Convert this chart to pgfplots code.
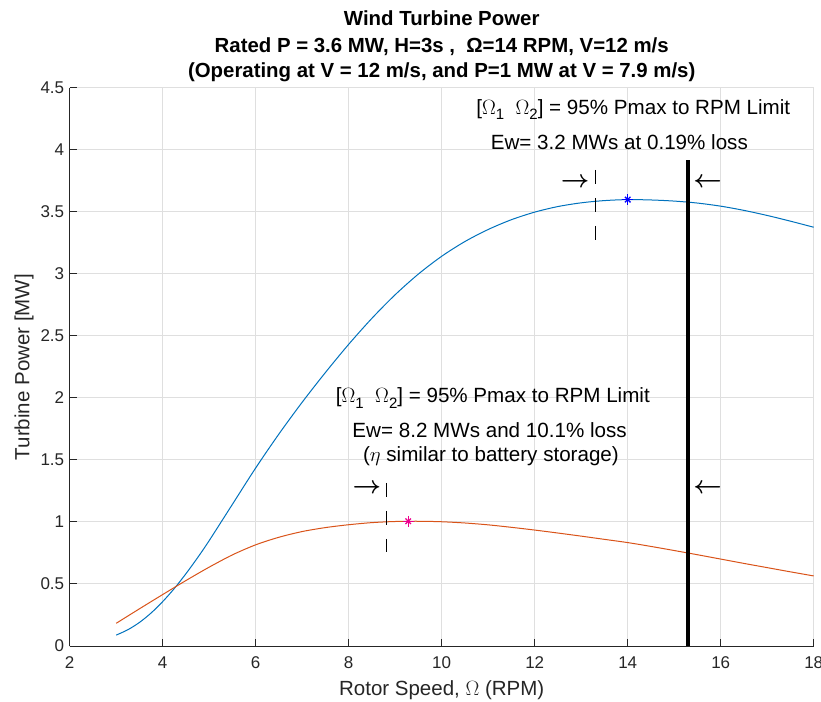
\documentclass[border=0pt]{standalone}
\usepackage{pgfplots}
\pgfplotsset{compat=1.18}
\usepackage{graphicx}
\usepackage{fontspec}
\setmainfont{Liberation Sans}
\definecolor{mblue}{rgb}{0,0.447,0.741}
\definecolor{morange}{rgb}{0.85,0.325,0.098}
\definecolor{axgray}{rgb}{0.15,0.15,0.15}
\definecolor{gridgray}{rgb}{0.875,0.875,0.875}
\newcommand{\fs}[1]{\fontsize{#1}{#1}\selectfont}
\newcommand{\sub}[1]{\raisebox{-5.5bp}{\fs{15bp}#1}}
\newcommand{\arrfont}{\fontsize{29bp}{29bp}\selectfont\boldmath}
\begin{document}
\begin{tikzpicture}
\useasboundingbox (-69.7bp,-56bp) rectangle (751.3bp,646bp);
\begin{axis}[
  scale only axis, width=744bp, height=558bp,
  xmin=2, xmax=18, ymin=0, ymax=4.5,
  xtick={2,4,6,8,10,12,14,16,18},
  ytick={0,0.5,1,1.5,2,2.5,3,3.5,4,4.5},
  axis x line*=bottom, axis y line*=left,
  axis line style={axgray, line width=1bp},
  tick align=inside, major tick length=7bp,
  tick style={axgray, line width=1bp},
  grid=major, grid style={gridgray, line width=1bp},
  ticklabel style={font=\fs{17bp}, text=axgray},
  /pgf/number format/assume math mode=true,
  xticklabel style={yshift=-7bp},
  yticklabel style={xshift=-2bp},
  xlabel={Rotor Speed, $\Omega$ (RPM)},
  ylabel={Turbine Power [MW]},
  label style={font=\fs{20.5bp}, text=axgray},
  xlabel style={at={(axis description cs:0.5,-0.0887)}, anchor=base},
  ylabel style={at={(axis description cs:-0.0614,0.5)}, anchor=center},
  clip=false,
]
\addplot[mblue, line width=1bp, smooth, tension=0.5] coordinates {
(3.0,0.088) (3.25,0.131) (3.5,0.19) (3.75,0.266) (4.0,0.358) (4.25,0.464) (4.5,0.583)
(4.75,0.712) (5.0,0.85) (5.5,1.143) (6.0,1.436)
(6.5,1.71) (7.0,1.966) (7.5,2.206) (8.0,2.433) (8.5,2.643) (9.0,2.833) (9.5,3.0)
(10.0,3.143) (10.5,3.262) (11.0,3.359) (11.5,3.438) (12.0,3.499) (12.5,3.544)
(13.0,3.574) (13.5,3.592) (14.0,3.600) (14.5,3.597) (15.0,3.588) (15.5,3.572)
(16.0,3.547) (16.5,3.513) (17.0,3.472) (17.5,3.426) (18.0,3.377)};
\addplot[morange, line width=1bp, smooth, tension=0.5] coordinates {
(3.0,0.183) (3.5,0.300) (4.0,0.415) (4.5,0.528) (5.0,0.636) (5.5,0.735) (6.0,0.816)
(6.5,0.877) (7.0,0.923) (7.5,0.955) (8.0,0.978) (8.5,0.995) (9.0,1.004) (9.5,1.006)
(10.0,1.002) (10.5,0.992) (11.0,0.977) (11.5,0.957) (12.0,0.935) (12.5,0.911)
(13.0,0.886) (13.5,0.860) (14.0,0.834) (14.5,0.803) (15.0,0.770) (15.5,0.736)
(16.0,0.701) (16.5,0.666) (17.0,0.632) (17.5,0.598) (18.0,0.565)};
\addplot[black, line width=3.5bp] coordinates {(15.3,0) (15.3,3.92)};
\addplot[black, line width=1bp, dash pattern=on 14.5bp off 13.5bp] coordinates {(13.3,3.84) (13.3,3.27)};
\addplot[black, line width=1bp, dash pattern=on 14.5bp off 13.5bp] coordinates {(8.81,1.315) (8.81,0.758)};
\addplot[only marks, blue, mark=+, mark size=5.5bp, mark options={line width=1.3bp}] coordinates {(14,3.6)};
\addplot[only marks, blue, mark=x, mark size=3.9bp, mark options={line width=1.3bp}] coordinates {(14,3.6)};
\addplot[only marks, magenta, mark=+, mark size=5.5bp, mark options={line width=1.3bp}] coordinates {(9.28,1.006)};
\addplot[only marks, magenta, mark=x, mark size=3.9bp, mark options={line width=1.3bp}] coordinates {(9.28,1.006)};
% annotations
\node[anchor=base, font=\fs{20.6bp}] at (axis cs:14.12,4.290) {[$\Omega$\sub{1}\ \ $\Omega$\sub{2}] = 95\% Pmax to RPM Limit};
\node[anchor=base, font=\fs{20.6bp}] at (axis cs:13.82,4.008) {Ew= 3.2 MWs at 0.19\% loss};
\node[anchor=base, font=\fs{20.6bp}] at (axis cs:11.10,1.960) {[$\Omega$\sub{1}\ \ $\Omega$\sub{2}] = 95\% Pmax to RPM Limit};
\node[anchor=base, font=\fs{20.6bp}] at (axis cs:11.03,1.685) {Ew= 8.2 MWs and 10.1\% loss};
\node[anchor=base, font=\fs{20.6bp}] at (axis cs:11.06,1.484) {($\eta$ similar to battery storage)};
\node[inner sep=0pt, font=\arrfont] at (axis cs:12.87,3.736) {$\rightarrow$};
\node[inner sep=0pt, font=\arrfont] at (axis cs:15.72,3.736) {$\leftarrow$};
\node[inner sep=0pt, font=\arrfont] at (axis cs:8.39,1.272) {$\rightarrow$};
\node[inner sep=0pt, font=\arrfont] at (axis cs:15.72,1.272) {$\leftarrow$};
% title
\node[anchor=base, font=\bfseries\fs{20.4bp}] at (rel axis cs:0.5,1) [yshift=62.7bp] {Wind Turbine Power};
\node[anchor=base, font=\bfseries\fs{20.4bp}] at (rel axis cs:0.5,1) [yshift=35.7bp] {Rated P = 3.6 MW, H=3s ,\ \ Ω=14 RPM, V=12 m/s};
\node[anchor=base, font=\bfseries\fs{20.4bp}] at (rel axis cs:0.5,1) [yshift=10.7bp] {(Operating at V = 12 m/s, and P=1 MW at V = 7.9 m/s)};
\end{axis}
\end{tikzpicture}
\end{document}
